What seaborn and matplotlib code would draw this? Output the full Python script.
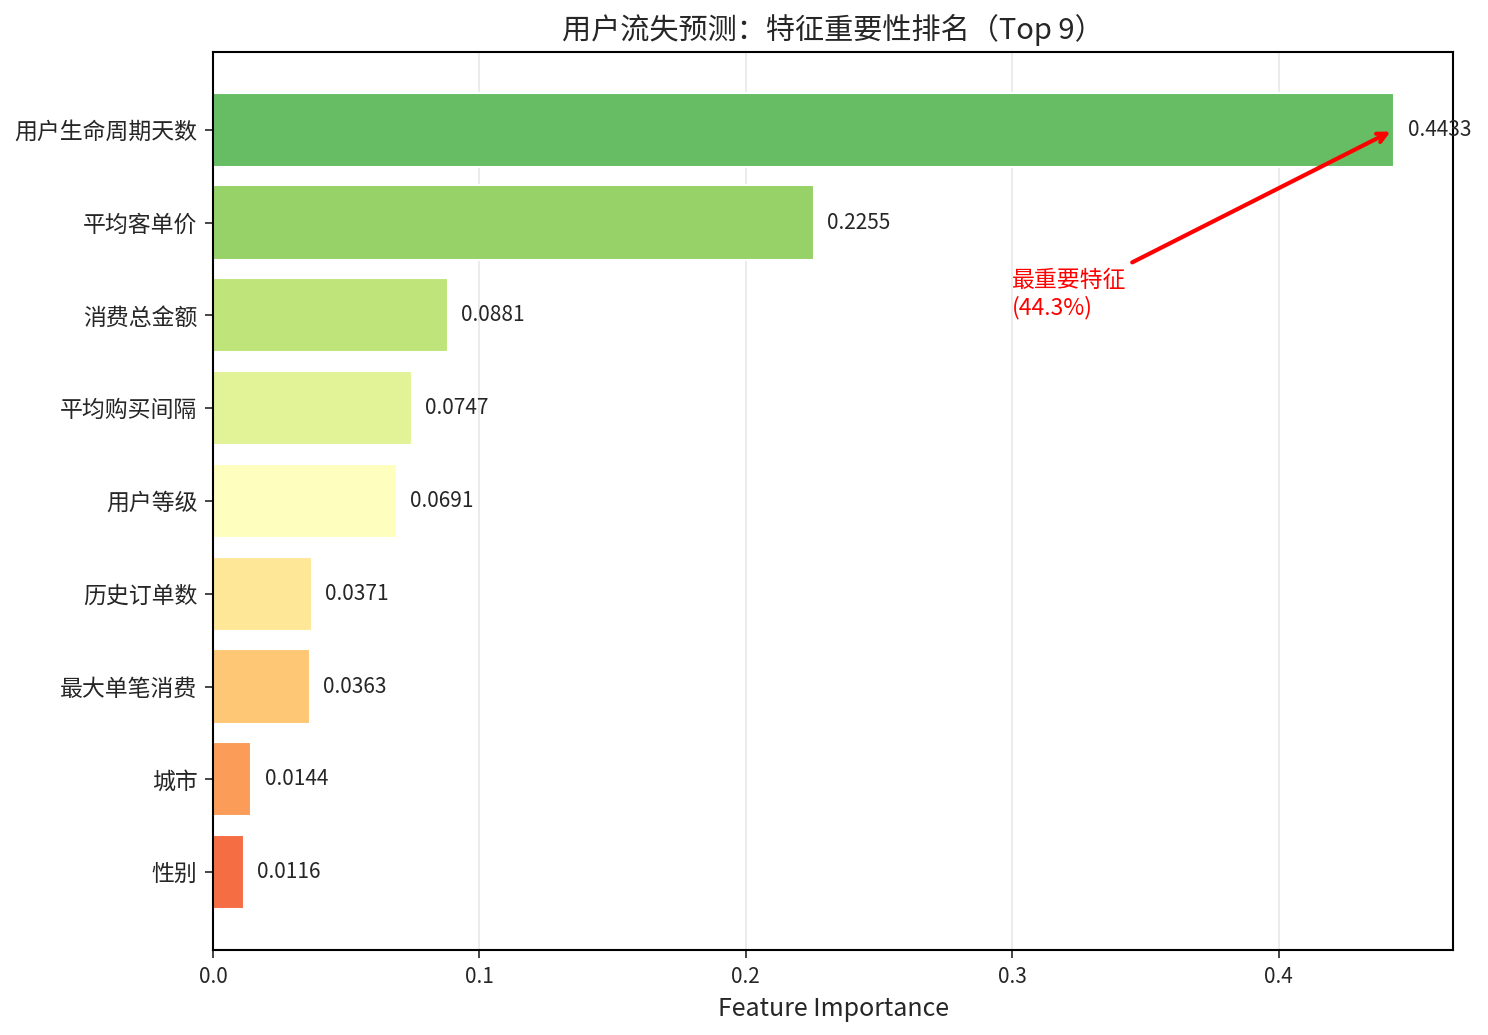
import numpy as np
import pandas as pd
import matplotlib
matplotlib.use('Agg')
import matplotlib.pyplot as plt
import seaborn as sns

# feature importance values (top to bottom)
features = ['用户生命周期天数', '平均客单价', '消费总金额', '平均购买间隔', '用户等级',
            '历史订单数', '最大单笔消费', '城市', '性别']
importance = [0.4433, 0.2255, 0.0881, 0.0747, 0.0691, 0.0371, 0.0363, 0.0144, 0.0116]

sns.set_style('white')
plt.rcParams['font.family'] = ['Noto Sans CJK SC', 'DejaVu Sans']
plt.rcParams['axes.unicode_minus'] = False

df = pd.DataFrame({'feature': features, 'importance': importance})

# green for the top feature, red for the last
colors = plt.cm.RdYlGn(np.linspace(0.8, 0.2, len(features)))

fig, ax = plt.subplots(figsize=(1489 / 150, 1035 / 150), dpi=150)
sns.barplot(data=df, x='importance', y='feature', hue='feature',
            palette=list(colors), legend=False, width=0.8, saturation=1, ax=ax)

for i, v in enumerate(importance):
    ax.text(v + 0.005, i, f'{v:.4f}', va='center', ha='left', fontsize=10)

ax.annotate('最重要特征\n(44.3%)', xy=(importance[0], 0), xytext=(0.3, 1.5),
            fontsize=11, color='red', va='top', ha='left',
            arrowprops=dict(arrowstyle='->', color='red', lw=2))

ax.set_xlim(0, max(importance) * 1.05)
ax.set_ylim(len(features) - 1 + 0.84, -0.84)
ax.set_title('用户流失预测：特征重要性排名（Top 9）', fontsize=14)
ax.set_xlabel('Feature Importance', fontsize=12)
ax.set_ylabel('')
ax.tick_params(axis='y', labelsize=11, left=True, length=4)
ax.tick_params(axis='x', labelsize=10, bottom=True, length=4)
ax.xaxis.grid(True, alpha=0.3, color='#b0b0b0')
ax.set_axisbelow(True)
for s in ax.spines.values():
    s.set_color('black')
    s.set_linewidth(1)

fig.subplots_adjust(left=0.143, right=0.976, top=0.950, bottom=0.082)
fig.savefig('out.png', dpi=150)
